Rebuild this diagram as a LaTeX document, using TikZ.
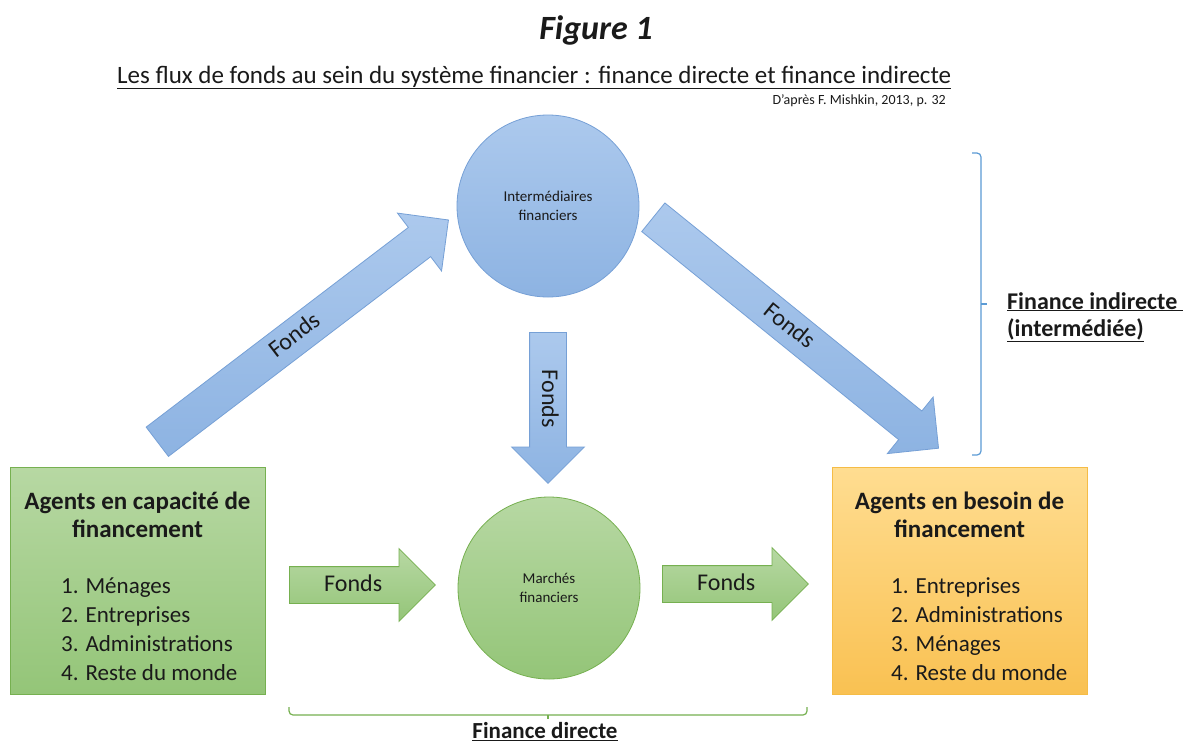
\documentclass[tikz,border=0pt]{standalone}
\usepackage{fontspec}
\setmainfont{Carlito}
\usetikzlibrary{shapes.arrows,positioning}

\definecolor{bluetop}{RGB}{172,201,237}
\definecolor{bluebot}{RGB}{141,179,226}
\definecolor{blueline}{RGB}{118,160,214}
\definecolor{bracketblue}{RGB}{91,155,213}
\definecolor{greentop}{RGB}{183,216,163}
\definecolor{greenbot}{RGB}{148,197,120}
\definecolor{greenline}{RGB}{118,176,80}
\definecolor{orangetop}{RGB}{255,221,145}
\definecolor{orangebot}{RGB}{249,193,82}
\definecolor{orangeline}{RGB}{245,188,70}
\definecolor{ink}{RGB}{26,26,26}

\begin{document}
\begin{tikzpicture}[
    x=1pt, y=-1pt,
    agentbox/.style={draw, line width=1pt, minimum width=255pt, minimum height=227pt, inner sep=0pt},
    market/.style={circle, draw, line width=0.8pt, minimum size=182pt, inner sep=0pt, align=center, font=\fontsize{15}{19}\selectfont, text=ink},
    fonds/.style={single arrow, draw, line width=0.8pt, single arrow head extend=18pt, minimum width=72pt,
        text height=15pt, text depth=3pt, inner ysep=9pt, inner xsep=4pt, anchor=tail, font=\fontsize{24}{28}\selectfont, text=ink},
    bluearrow/.style={fonds, draw=blueline, top color=bluetop, bottom color=bluebot},
    greenarrow/.style={fonds, draw=greenline, top color=greentop, bottom color=greenbot},
    heading/.style={font=\bfseries\fontsize{25}{28}\selectfont, text=ink, align=center, inner sep=0pt},
    items/.style={font=\fontsize{23}{29}\selectfont, text=ink, align=left, anchor=base west, inner sep=0pt},
    brace/.style={line width=1.2pt, rounded corners=4pt}
]
\path[fill=white] (0,0) rectangle (1193,742);

% titles
\node[font=\bfseries\itshape\fontsize{34}{40}\selectfont, anchor=base, text=ink] (fig) at (596,39) {Figure 1};
\node[font=\fontsize{25}{28}\selectfont, anchor=base west, inner sep=0pt, text=ink] (title) at (117,83)
    {\underline{Les flux de fonds au sein du système financier : finance directe et finance indirecte}};
\node[font=\fontsize{14}{16}\selectfont, anchor=base east, inner sep=0pt, text=ink] (src) at (946,104) {D'après F. Mishkin, 2013, p. 32};

% circles
\node[market, draw=blueline, top color=bluetop, bottom color=bluebot] (inter) at (548,206) {Intermédiaires\\financiers};
\node[market, draw=greenline, top color=greentop, bottom color=greenbot] (marche) at (549,588) {Marchés\\financiers};

% agents
\node[agentbox, draw=greenline, top color=greentop, bottom color=greenbot] (cap) at (137.5,580.5) {};
\node[agentbox, draw=orangeline, top color=orangetop, bottom color=orangebot] (bes) at (959.5,580.5) {};
\node[heading, anchor=base] (captitle) at (137.5,537) {Agents en capacité de\\financement};
\node[heading, anchor=base] (bestitle) at (959.5,537) {Agents en besoin de\\financement};
\node[items] (caplist) at (61,680) {1. Ménages\\2. Entreprises\\3. Administrations\\4. Reste du monde};
\node[items] (beslist) at (891,680) {1. Entreprises\\2. Administrations\\3. Ménages\\4. Reste du monde};

% flows
\node[bluearrow, rotate=37.3, minimum height=366pt] (fup) at (157,442) {Fonds};
\node[bluearrow, rotate=-39, minimum height=367pt] (fdown) at (653,217) {Fonds};
\node[bluearrow, rotate=-90, minimum height=151pt] (fmid) at (548,332) {Fonds};
\node[greenarrow, minimum height=146pt] (fin) at (289,585) {Fonds};
\node[greenarrow, minimum height=146pt] (fout) at (662,584) {Fonds};

% braces
\draw[brace, draw=bracketblue] (972,153) -| (981,455) -- (972,455);
\draw[brace, draw=bracketblue] (981,304) -- (987,304);
\node[font=\bfseries\fontsize{24}{27}\selectfont, anchor=base west, align=left, inner sep=0pt, text=ink] (indir) at (1007,336)
    {\underline{Finance indirecte~}\\\underline{(intermédiée)}};
\draw[brace, draw=greenline] (289,707) |- (807,715) -- (807,707);
\draw[brace, draw=greenline] (548,715) -- (548,719);
\node[font=\bfseries\fontsize{23}{28}\selectfont, anchor=base, inner sep=0pt, text=ink] (dir) at (545,738.5) {\underline{Finance directe}};
\end{tikzpicture}
\end{document}
